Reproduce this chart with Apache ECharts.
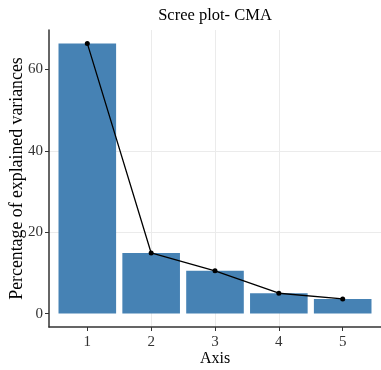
<!DOCTYPE html>
<html>
<head>
<meta charset="utf-8">
<script src="https://cdn.jsdelivr.net/npm/echarts@6/dist/echarts.min.js"></script>
<style>html,body{margin:0;padding:0;background:#fff}#c{width:381px;height:370px}</style>
</head>
<body>
<div id="c"></div>
<script>
const axes = [1, 2, 3, 4, 5];
const variances = [66.4, 14.9, 10.5, 5.0, 3.6];
const yTicks = [0, 20, 40, 60];
const titleText = 'Scree plot- CMA';
const xName = 'Axis';
const yName = 'Percentage of explained variances';

const font = 'Liberation Serif';
const pairs = axes.map((a, i) => [a, variances[i]]);
const chart = echarts.init(document.getElementById('c'), null, {renderer: 'canvas'});
chart.setOption({
  animation: false,
  backgroundColor: '#fff',
  title: {
    text: titleText, left: 210, top: 2, textAlign: 'center',
    textStyle: {fontFamily: font, fontSize: 16.5, fontWeight: 'normal', color: '#000'}
  },
  grid: {left: 49, right: 0, top: 30, bottom: 43, containLabel: false, outerBoundsMode: 'none'},
  xAxis: {
    type: 'value', min: 0.4, max: 5.6,
    name: xName, nameLocation: 'middle', nameGap: 24, nameMoveOverlap: false,
    nameTextStyle: {fontFamily: font, fontSize: 16, color: '#000'},
    axisLine: {show: true, onZero: false, lineStyle: {color: '#333', width: 1.5}},
    axisTick: {show: true, length: 4, lineStyle: {color: '#333'}, customValues: axes},
    axisLabel: {fontFamily: font, fontSize: 15, color: '#333', margin: 8, customValues: axes,
      formatter: v => Number.isInteger(v) ? String(v) : ''},
    splitLine: {show: true, showMinLine: false, showMaxLine: false, lineStyle: {color: '#ebebeb', width: 1}}
  },
  yAxis: {
    type: 'value', min: -3.3, max: 69.7,
    name: yName, nameLocation: 'middle', nameGap: 23, nameRotate: 90, nameMoveOverlap: false,
    nameTextStyle: {fontFamily: font, fontSize: 17.8, color: '#000'},
    axisLine: {show: true, onZero: false, lineStyle: {color: '#333', width: 1.5}},
    axisTick: {show: true, length: 4, lineStyle: {color: '#333'}, customValues: yTicks},
    axisLabel: {fontFamily: font, fontSize: 15, color: '#333', margin: 6, customValues: yTicks,
      formatter: v => (v % 20 === 0) ? String(v) : ''},
    splitLine: {show: true, showMinLine: false, showMaxLine: false, lineStyle: {color: '#ebebeb', width: 1}}
  },
  series: [
    {type: 'bar', data: pairs, barWidth: 57.6, itemStyle: {color: '#4682B4'}, z: 2},
    {type: 'line', data: pairs, symbol: 'circle', symbolSize: 5,
      itemStyle: {color: '#000'}, lineStyle: {color: '#000', width: 1.3}, z: 3}
  ]
});
</script>
</body>
</html>
